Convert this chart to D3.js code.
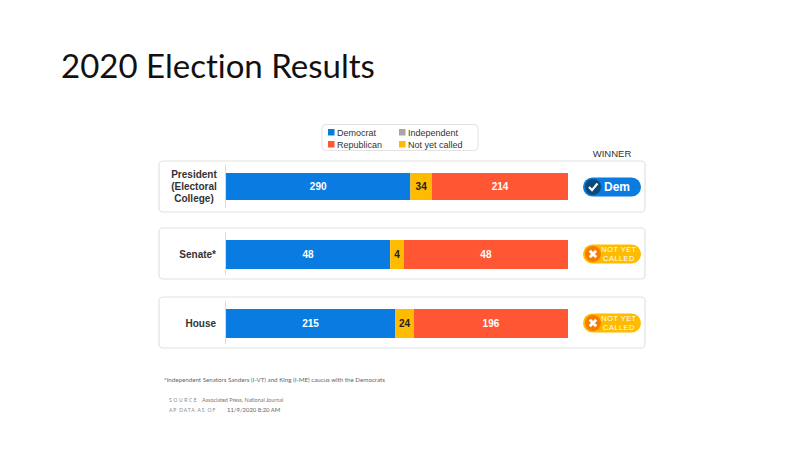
<!DOCTYPE html>
<html>
<head>
<meta charset="utf-8">
<script src="https://cdn.jsdelivr.net/npm/d3@7"></script>
<style>
html, body { margin: 0; padding: 0; background: #fff; overflow: hidden; }
svg { display: block; }
text { font-family: "Liberation Sans", Arial, sans-serif; font-variant-ligatures: none; }
</style>
</head>
<body>
<svg width="800" height="450"></svg>
<script>
var races = ["President", "Senate", "House"];
var democrat = [290, 48, 215];
var independent = [0, 0, 0];
var notCalled = [34, 4, 24];
var republican = [214, 48, 196];
var raceLabels = [["President", "(Electoral", "College)"], ["Senate*"], ["House"]];
var winners = ["Dem", "NOT YET CALLED", "NOT YET CALLED"];

var legendNames = ["Democrat", "Republican", "Independent", "Not yet called"];
var colors = { dem: "#0a7be0", rep: "#ff5733", ind: "#a6a6a6", notCalled: "#ffbb00" };

var svg = d3.select("svg");

svg.append("text").attr("x", 61).attr("y", 78)
    .style("font-family", "Lato").style("font-size", "33px").style("font-weight", "400").attr("fill", "#111")
    .text("2020 Election Results");

// legend
var legend = svg.append("g");
legend.append("rect").attr("x", 322).attr("y", 124.5).attr("width", 156).attr("height", 26).attr("rx", 4)
    .attr("fill", "#fff").attr("stroke", "#e3e3e3");
var legendColors = [colors.dem, colors.rep, colors.ind, colors.notCalled];
var legendX = d3.scaleOrdinal().domain(legendNames).range([328, 328, 399, 399]);
var legendY = d3.scaleOrdinal().domain(legendNames).range([129, 141, 129, 141]);
legendNames.forEach(function(name, i) {
    legend.append("rect").attr("x", legendX(name)).attr("y", legendY(name)).attr("width", 6.5).attr("height", 6.5)
        .attr("fill", legendColors[i]);
    legend.append("text").attr("x", legendX(name) + 9).attr("y", legendY(name) + 6.5)
        .style("font-size", "9px").attr("fill", "#333").text(name);
});

svg.append("text").attr("x", 612).attr("y", 157).attr("text-anchor", "middle")
    .style("font-size", "9.5px").attr("fill", "#333").text("WINNER");

var panelTop = d3.scaleOrdinal().domain(races).range([161, 228, 297]);
var barTop = d3.scaleOrdinal().domain(races).range([173, 240, 309]);
var barHeight = d3.scaleOrdinal().domain(races).range([27, 29, 29]);

races.forEach(function(race, i) {
    var y0 = panelTop(race);
    var g = svg.append("g");

    g.append("rect").attr("x", 159).attr("y", y0).attr("width", 486).attr("height", 51).attr("rx", 4)
        .attr("fill", "#fff").attr("stroke", "#e2e2e2").attr("stroke-width", 1.2);
    g.append("line").attr("x1", 225.5).attr("x2", 225.5).attr("y1", y0 + 4).attr("y2", y0 + 47)
        .attr("stroke", "#dcdcdc");

    // row label
    var lines = raceLabels[i];
    lines.forEach(function(line, k) {
        g.append("text")
            .attr("x", i == 0 ? 194 : 216)
            .attr("y", y0 + 25.5 + (i == 0 ? 3.5 : 4.5) + (k - (lines.length - 1) / 2) * 12)
            .attr("text-anchor", i == 0 ? "middle" : "end")
            .style("font-size", "10px").style("font-weight", "bold").attr("fill", "#333")
            .text(line);
    });

    // stacked bar, each race has its own total
    var parts = [
        { value: democrat[i], color: colors.dem, label: "#fff" },
        { value: independent[i], color: colors.ind, label: "#fff" },
        { value: notCalled[i], color: colors.notCalled, label: "#222" },
        { value: republican[i], color: colors.rep, label: "#fff" }
    ];
    var total = d3.sum(parts, function(d) { return d.value; });
    var x = d3.scaleLinear().domain([0, total]).range([226, 568]);
    var sofar = 0;
    parts.forEach(function(p) {
        if (p.value == 0) return;
        var x0 = x(sofar), x1 = x(sofar + p.value);
        g.append("rect").attr("x", x0).attr("y", barTop(race)).attr("width", x1 - x0).attr("height", barHeight(race))
            .attr("fill", p.color);
        g.append("text").attr("x", (x0 + x1) / 2).attr("y", barTop(race) + barHeight(race) / 2 + 3.5)
            .attr("text-anchor", "middle")
            .style("font-size", "10px").style("font-weight", "bold").attr("fill", p.label)
            .text(p.value);
        sofar += p.value;
    });

    // winner badge
    var called = winners[i] == "Dem";
    var cy = barTop(race) + barHeight(race) / 2 + (called ? 0.5 : -0.5);
    g.append("rect").attr("x", 583).attr("y", cy - 9.5).attr("width", 58).attr("height", 19).attr("rx", 9.5)
        .attr("fill", called ? colors.dem : colors.notCalled);
    g.append("circle").attr("cx", 593).attr("cy", cy).attr("r", 8)
        .attr("fill", called ? "#0b4a78" : "#f57c00");
    if (called) {
        g.append("path").attr("d", d3.line()([[589, cy], [592, cy + 3.2], [597.5, cy - 3.5]]))
            .attr("fill", "none").attr("stroke", "#fff").attr("stroke-width", 2.2);
        g.append("text").attr("x", 604).attr("y", cy + 4.3)
            .style("font-size", "12px").style("font-weight", "bold").attr("fill", "#fff").text(winners[i]);
    } else {
        g.append("path").attr("d", "M589.8 " + (cy - 3.2) + "L596.2 " + (cy + 3.2) + "M596.2 " + (cy - 3.2) + "L589.8 " + (cy + 3.2))
            .attr("fill", "none").attr("stroke", "#fff").attr("stroke-width", 2.8);
        g.append("text").attr("x", 619).attr("y", cy - 1.6).attr("text-anchor", "middle")
            .style("font-size", "7.4px").style("letter-spacing", "0.5px").attr("fill", "#fff").text("NOT YET");
        g.append("text").attr("x", 619).attr("y", cy + 7).attr("text-anchor", "middle")
            .style("font-size", "7.4px").style("letter-spacing", "0.5px").attr("fill", "#fff").text("CALLED");
    }
});

// footnotes
svg.append("text").attr("x", 164).attr("y", 382).style("font-family", "Lato").style("font-size", "6.2px").attr("fill", "#666")
    .text("*Independent Senators Sanders (I-VT) and King (I-ME) caucus with the Democrats");
svg.append("text").attr("x", 169).attr("y", 402).style("font-family", "Lato").style("font-size", "5px").style("letter-spacing", "1.6px").attr("fill", "#888")
    .text("SOURCE");
svg.append("text").attr("x", 202).attr("y", 402).style("font-family", "Lato").style("font-size", "5.45px").attr("fill", "#777")
    .text("Associated Press, National Journal");
svg.append("text").attr("x", 169).attr("y", 412).style("font-family", "Lato").style("font-size", "5px").style("letter-spacing", "0.9px").attr("fill", "#888")
    .text("AP DATA AS OF");
svg.append("text").attr("x", 227).attr("y", 412).style("font-family", "Lato").style("font-size", "5.9px").attr("fill", "#666")
    .text("11/9/2020 8:20 AM");
</script>
</body>
</html>
